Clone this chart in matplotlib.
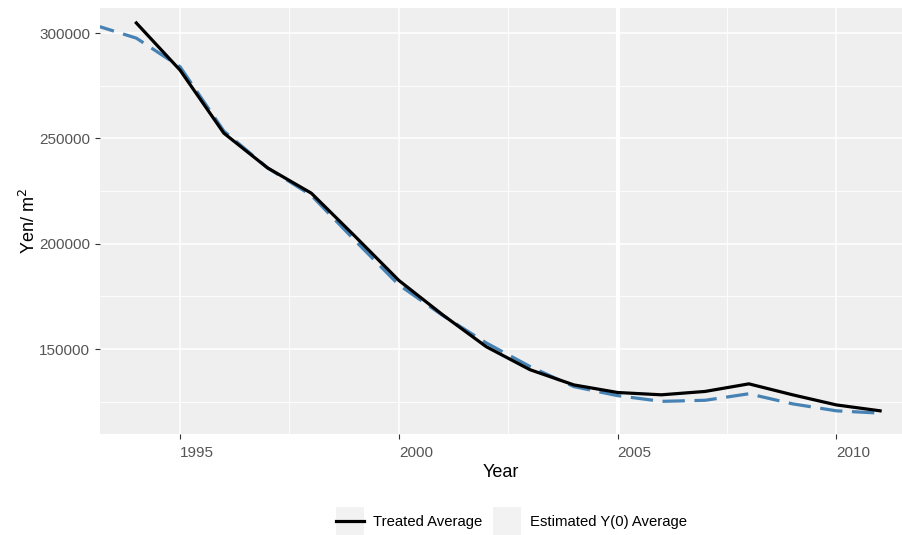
import matplotlib
matplotlib.use("Agg")
import matplotlib.pyplot as plt
from matplotlib.lines import Line2D
from matplotlib.patches import Rectangle
from matplotlib.legend_handler import HandlerLine2D
from matplotlib.ticker import FixedLocator

# observed treated average (Yen per m^2)
treated_years = [1994, 1995, 1996, 1997, 1998, 1999, 2000, 2001, 2002,
                 2003, 2004, 2005, 2006, 2007, 2008, 2009, 2010, 2011]
treated_avg = [304800, 282400, 252500, 236000, 224000, 203500, 182600, 166300,
               151100, 140200, 133000, 129400, 128300, 129900, 133500, 128300,
               123500, 120700]

# synthetic estimate of Y(0)
est_years = [1993, 1994, 1995, 1996, 1997, 1998, 1999, 2000, 2001, 2002,
             2003, 2004, 2005, 2006, 2007, 2008, 2009, 2010, 2011]
est_avg = [304100, 297600, 284000, 253500, 236000, 223000, 201500, 180500,
           166000, 152900, 141700, 132200, 127900, 125200, 125700, 128800,
           124000, 120700, 119600]

treat_start = 2005
x_ticks = [1995, 2000, 2005, 2010]
y_ticks = [150000, 200000, 250000, 300000]

PANEL = "#EFEFEF"
TICKCOL = "#555555"


class KeyHandler(HandlerLine2D):
    """ggplot-ish legend key: grey square behind the line."""
    def create_artists(self, legend, orig_handle, xdescent, ydescent,
                       width, height, fontsize, trans):
        yc = -ydescent + height / 2
        bg = Rectangle((-xdescent, yc - width / 2), width, width,
                       facecolor="#F2F2F2", edgecolor="none", transform=trans)
        arts = super().create_artists(legend, orig_handle, xdescent, ydescent,
                                      width, height, fontsize, trans)
        return [bg] + arts


def main():
    plt.rcParams["font.family"] = ["Liberation Sans", "DejaVu Sans"]
    fig = plt.figure(figsize=(9.02, 5.35), dpi=100)
    ax = fig.add_axes([100 / 902, 1 - 434 / 535, 802 / 902, 426 / 535])
    ax.set_facecolor(PANEL)

    ax.set_xlim(1993.17, 2011.5)
    ax.set_ylim(109700, 311900)

    # grid
    for x in [1997.5, 2002.5, 2007.5]:
        ax.axvline(x, color="white", lw=0.6, zorder=0)
    for y in [125000, 175000, 225000, 275000]:
        ax.axhline(y, color="white", lw=0.6, zorder=0)
    for x in x_ticks:
        ax.axvline(x, color="white", lw=1.1, zorder=0)
    for y in y_ticks:
        ax.axhline(y, color="white", lw=1.1, zorder=0)
    ax.axvline(treat_start, color="white", lw=3.0, zorder=1)

    ax.plot(est_years, est_avg, color="#4682B4", lw=2.3, dashes=(7, 3),
            zorder=2)
    ax.plot(treated_years, treated_avg, color="black", lw=2.3, zorder=3)

    ax.xaxis.set_major_locator(FixedLocator(x_ticks))
    ax.yaxis.set_major_locator(FixedLocator(y_ticks))
    ax.set_yticklabels([str(v) for v in y_ticks])
    ax.set_xticklabels([str(v) for v in x_ticks], ha="left")
    ax.tick_params(colors="#333333", labelcolor=TICKCOL, labelsize=11,
                   length=3.5, width=0.8)
    ax.tick_params(axis="x", pad=5)
    for s in ax.spines.values():
        s.set_visible(False)

    ax.set_xlabel("Year", fontsize=13, labelpad=3)
    ax.set_ylabel("Yen/ m$^2$", fontsize=13, labelpad=0)

    handles = [Line2D([], [], color="black", lw=2.3),
               Line2D([], [], linestyle="none")]
    fig.legend(handles, ["Treated Average", "Estimated Y(0) Average"],
               loc="center", bbox_to_anchor=(511.5 / 902, 1 - 522 / 535),
               ncol=2, frameon=False, fontsize=10.7, handlelength=1.88,
               handleheight=1.0, handletextpad=0.6, columnspacing=0.74,
               handler_map={Line2D: KeyHandler()})

    fig.savefig("out.png", dpi=100)


if __name__ == "__main__":
    main()
